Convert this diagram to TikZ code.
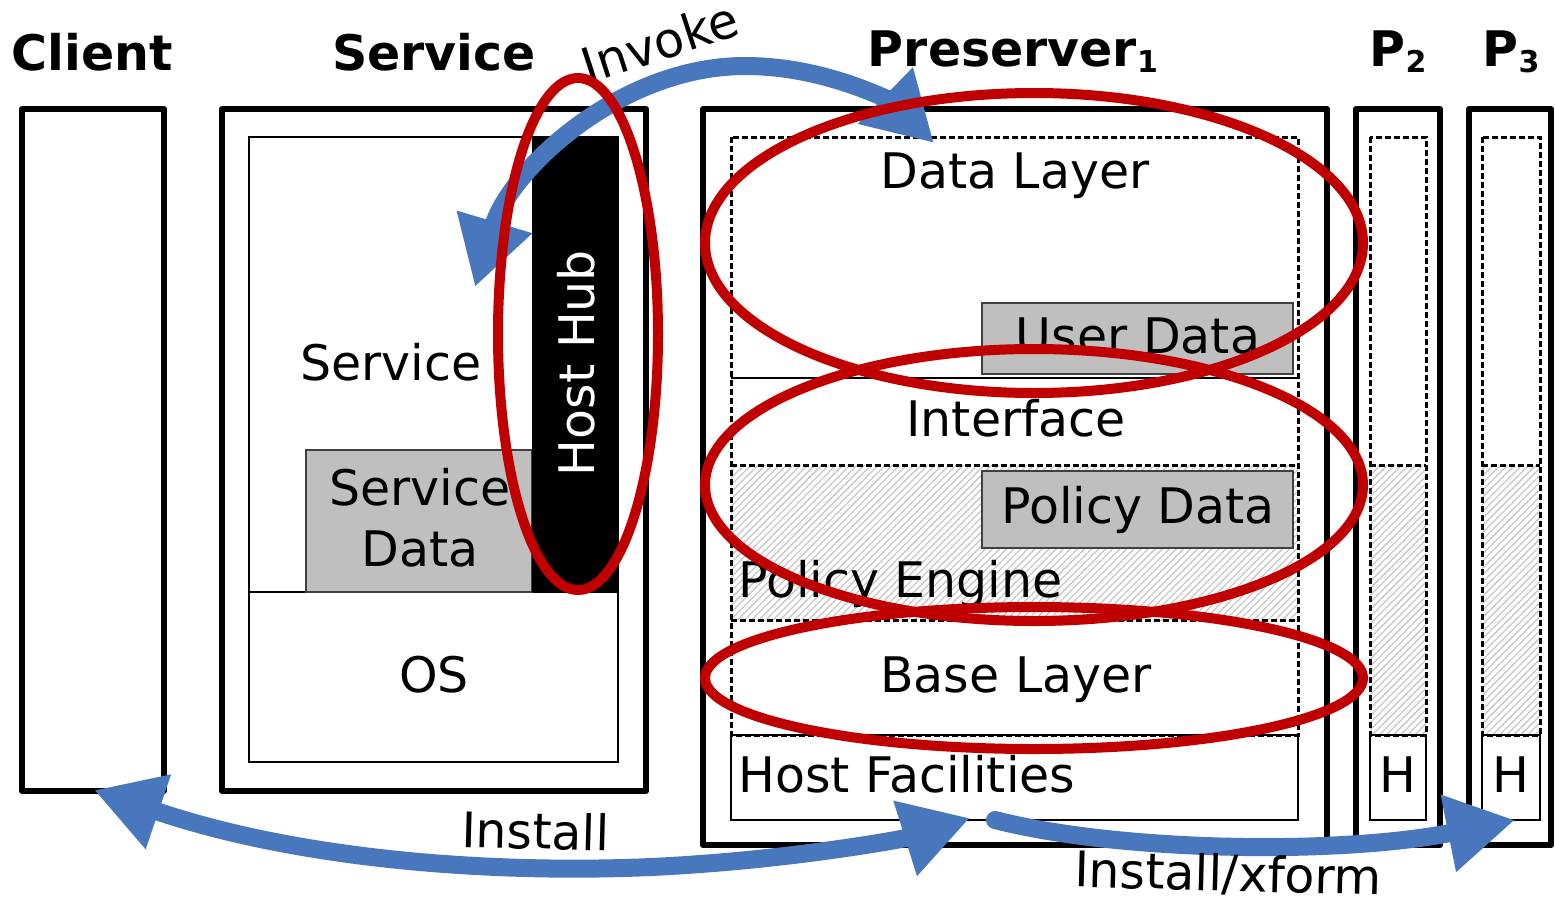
\documentclass[tikz,border=0pt]{standalone}
\usepackage{fontspec}
\setmainfont{DejaVu Sans}
\usetikzlibrary{arrows.meta,patterns.meta}
\definecolor{hubred}{RGB}{192,0,0}
\definecolor{flowblue}{RGB}{72,119,190}
\definecolor{datagray}{RGB}{191,191,191}

\begin{document}
\begin{tikzpicture}[x=1pt,y=-1pt,
  frame/.style={draw,line width=6pt,line join=round},
  thinbox/.style={draw,line width=1.5pt},
  dashbox/.style={draw,line width=3pt,dash pattern=on 6pt off 3pt},
  hatch/.style={pattern={Lines[angle=45,distance=5pt,line width=1.3pt]},pattern color=black!22},
  datafill/.style={fill=datagray,draw=black!75,line width=1.5pt},
  lbl/.style={inner sep=0pt,anchor=base,font=\fontsize{49}{58}\selectfont},
  ttl/.style={inner sep=0pt,anchor=base,font=\fontsize{49}{58}\selectfont\bfseries},
  ring/.style={draw=hubred,line width=10pt},
  flow/.style={draw=flowblue,line width=18pt},
  head/.style={Triangle[length=68pt,width=74pt]}]
\useasboundingbox (0,0) rectangle (1555,898);

% ---- titles
\node[ttl] (tclient) at (92,70) {Client};
\node[ttl] (tservice) at (434,70) {Service};
\node[ttl] (tpres) at (1013,66) {Preserver\raisebox{-6pt}{\fontsize{30}{30}\selectfont 1}};
\node[ttl] (tp2) at (1398,66) {P\raisebox{-6pt}{\fontsize{30}{30}\selectfont 2}};
\node[ttl] (tp3) at (1511,66) {P\raisebox{-6pt}{\fontsize{30}{30}\selectfont 3}};

% ---- client
\draw[frame] (22,109) rectangle (164,791);

% ---- service host
\draw[frame] (222,109) rectangle (646,791);
\draw[thinbox] (249,137) rectangle (618,762);
\draw[thinbox] (249,592) -- (618,592);
\draw[datafill] (306,450) rectangle (532,592);
\fill[black] (532,137) rectangle (618,592);
\node[lbl] (svc) at (391,380) {Service};
\node[lbl] (svcdata1) at (420,505) {Service};
\node[lbl] (svcdata2) at (420,566) {Data};
\node[lbl] (os) at (434,692) {OS};
\node[lbl,text=white,rotate=90] (hub) at (594,363) {Host Hub};

% ---- preserver 1
\draw[frame] (703,109) rectangle (1327,845);
\fill[hatch] (731,465) rectangle (1298,620);
\draw[thinbox] (731,378) -- (1298,378);
\draw[dashbox] (731,465) -- (1298,465);
\draw[dashbox] (731,620) -- (1298,620);
\draw[dashbox] (731,137) rectangle (1298,735);
\draw[thinbox] (731,735) rectangle (1298,820);
\draw[datafill] (982,303) rectangle (1293,374);
\draw[datafill] (982,471) rectangle (1293,548);
\node[lbl] (dlayer) at (1015,188) {Data Layer};
\node[lbl] (udata) at (1138,353) {User Data};
\node[lbl] (iface) at (1016,436) {Interface};
\node[lbl] (pdata) at (1138,523) {Policy Data};
\node[lbl,anchor=base west] (pengine) at (738,597) {Policy Engine};
\node[lbl] (blayer) at (1016,692) {Base Layer};
\node[lbl,anchor=base west] (hfac) at (738,792) {Host Facilities};

% ---- preservers 2 and 3
\foreach \l/\r/\il/\ir/\n in {1356/1440/1370/1426/2, 1469/1551/1482/1540/3}{
  \draw[frame] (\l,109) rectangle (\r,845);
  \fill[hatch] (\il,465) rectangle (\ir,735);
  \draw[dashbox] (\il,465) -- (\ir,465);
  \draw[dashbox] (\il,137) rectangle (\ir,735);
  \draw[thinbox] (\il,735) rectangle (\ir,820);
}
\node[lbl] (h2) at (1398,792) {H};
\node[lbl] (h3) at (1511,792) {H};

% ---- flows
\coordinate (inv-a) at (475,287);
\coordinate (inv-top) at (745,66);
\coordinate (inv-b) at (934,143);
\draw[flow,{Triangle[length=68pt,width=74pt]}-{Triangle[length=68pt,width=74pt]}]
  (inv-a) .. controls (510,170) and (620,66) .. (inv-top)
          .. controls (830,66) and (895,105) .. (inv-b);
\node[lbl,rotate=18,anchor=center] (invoke) at (660,42) {Invoke};

\coordinate (ins-a) at (94,790);
\coordinate (ins-mid) at (700,864);
\coordinate (ins-b) at (970,818);
\draw[flow,{Triangle[length=68pt,width=74pt]}-{Triangle[length=68pt,width=74pt]}]
  (ins-a) .. controls (330,870) and (560,875) .. (ins-mid)
          .. controls (800,857) and (900,840) .. (ins-b);
\node[lbl,rotate=-1.5] (install) at (535,849) {Install};

\coordinate (xf-a) at (995,820);
\coordinate (xf-b) at (1515,820);
\draw[flow,line cap=round,-{Triangle[length=68pt,width=74pt]}]
  (xf-a) .. controls (1120,852) and (1340,855) .. (xf-b);
\node[lbl,rotate=-1.5] (xform) at (1228,891) {Install/xform};

% ---- highlighted regions
\draw[ring] (578,334) ellipse [x radius=80, y radius=256];
\draw[ring] (1034,243) ellipse [x radius=329, y radius=150];
\draw[ring] (1034,485) ellipse [x radius=329, y radius=136];
\draw[ring] (1034,678) ellipse [x radius=329, y radius=71];
\end{tikzpicture}
\end{document}
